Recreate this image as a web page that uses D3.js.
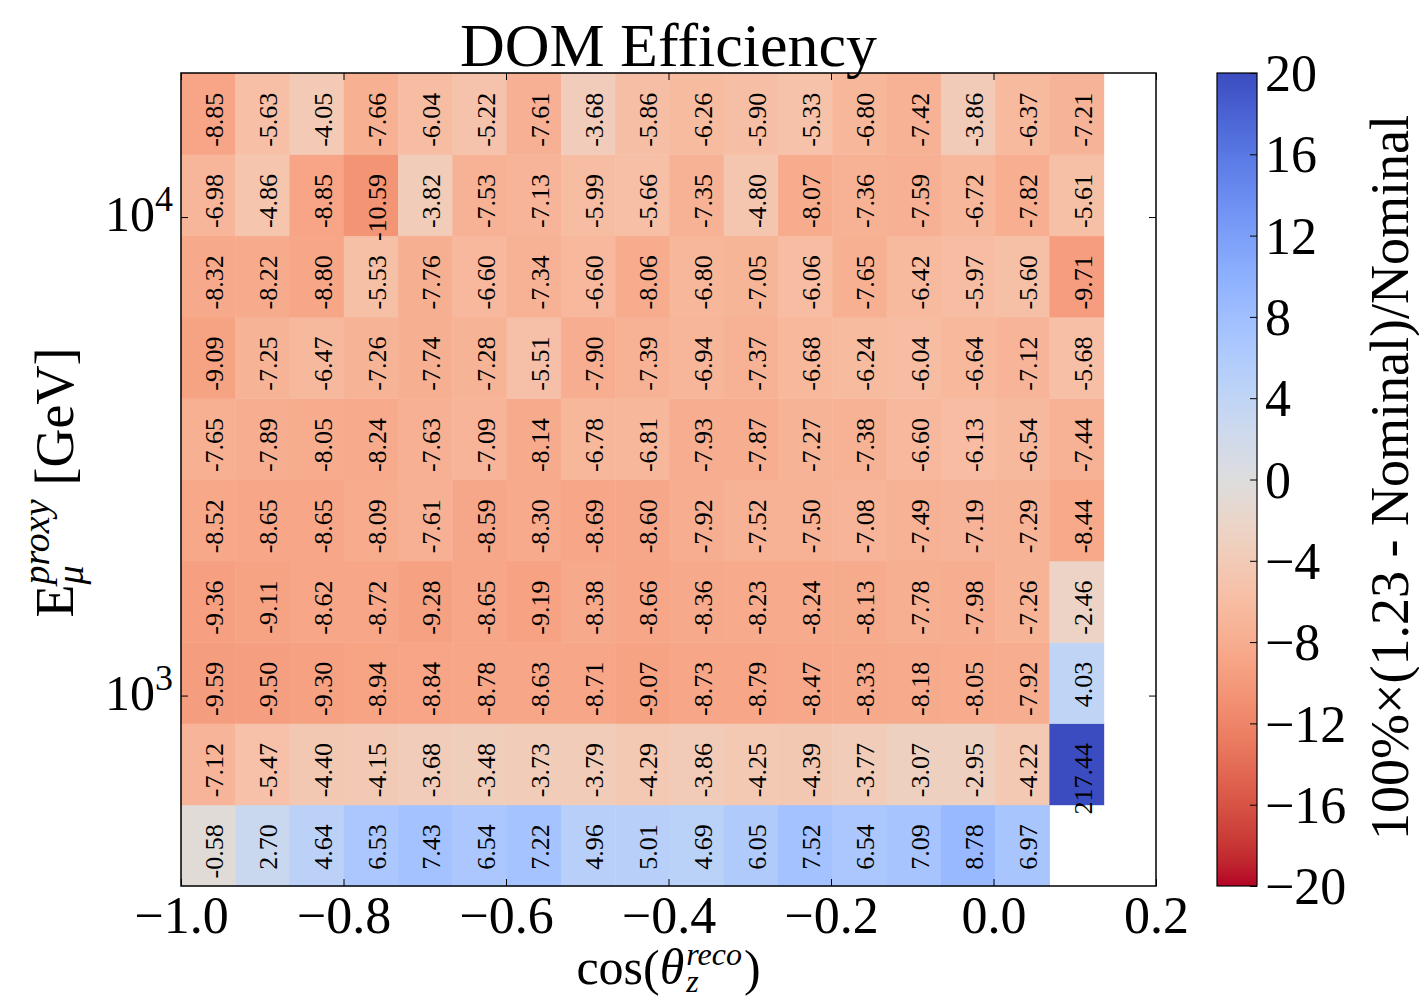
<!DOCTYPE html>
<html><head><meta charset="utf-8">
<script src="https://cdn.jsdelivr.net/npm/d3@7"></script>
<style>
body{margin:0;background:#fff}
svg{display:block}
text{font-family:"Liberation Serif","DejaVu Serif",serif;fill:#000}
</style>
</head><body>
<svg id="chart" width="1419" height="998"></svg>
<script>
// ---- data ----
const cosEdges = [-1.0, -0.9332, -0.8664, -0.7996, -0.7328, -0.666, -0.5992, -0.5324, -0.4656,
                  -0.3988, -0.332, -0.2652, -0.1984, -0.1316, -0.0648, 0.002, 0.0688, 0.1356];
const energyEdges = [400, 591.5, 875, 1293, 1913, 2828, 4182, 6184, 9146, 13525, 20000];

// rows from lowest energy bin (bottom) to highest (top)
const rowE0 = [-0.58, 2.70, 4.64, 6.53, 7.43, 6.54, 7.22, 4.96, 5.01, 4.69, 6.05, 7.52, 6.54, 7.09, 8.78, 6.97, null];
const rowE1 = [-7.12, -5.47, -4.40, -4.15, -3.68, -3.48, -3.73, -3.79, -4.29, -3.86, -4.25, -4.39, -3.77, -3.07, -2.95, -4.22, 217.44];
const rowE2 = [-9.59, -9.50, -9.30, -8.94, -8.84, -8.78, -8.63, -8.71, -9.07, -8.73, -8.79, -8.47, -8.33, -8.18, -8.05, -7.92, 4.03];
const rowE3 = [-9.36, -9.11, -8.62, -8.72, -9.28, -8.65, -9.19, -8.38, -8.66, -8.36, -8.23, -8.24, -8.13, -7.78, -7.98, -7.26, -2.46];
const rowE4 = [-8.52, -8.65, -8.65, -8.09, -7.61, -8.59, -8.30, -8.69, -8.60, -7.92, -7.52, -7.50, -7.08, -7.49, -7.19, -7.29, -8.44];
const rowE5 = [-7.65, -7.89, -8.05, -8.24, -7.63, -7.09, -8.14, -6.78, -6.81, -7.93, -7.87, -7.27, -7.38, -6.60, -6.13, -6.54, -7.44];
const rowE6 = [-9.09, -7.25, -6.47, -7.26, -7.74, -7.28, -5.51, -7.90, -7.39, -6.94, -7.37, -6.68, -6.24, -6.04, -6.64, -7.12, -5.68];
const rowE7 = [-8.32, -8.22, -8.80, -5.53, -7.76, -6.60, -7.34, -6.60, -8.06, -6.80, -7.05, -6.06, -7.65, -6.42, -5.97, -5.60, -9.71];
const rowE8 = [-6.98, -4.86, -8.85, -10.59, -3.82, -7.53, -7.13, -5.99, -5.66, -7.35, -4.80, -8.07, -7.36, -7.59, -6.72, -7.82, -5.61];
const rowE9 = [-8.85, -5.63, -4.05, -7.66, -6.04, -5.22, -7.61, -3.68, -5.86, -6.26, -5.90, -5.33, -6.80, -7.42, -3.86, -6.37, -7.21];
const rows = [rowE0, rowE1, rowE2, rowE3, rowE4, rowE5, rowE6, rowE7, rowE8, rowE9];

const xTicks = [-1.0, -0.8, -0.6, -0.4, -0.2, 0.0, 0.2];
const xTickLabels = ["\u22121.0", "\u22120.8", "\u22120.6", "\u22120.4", "\u22120.2", "0.0", "0.2"];
const yTicks = [1000, 10000];
const yTickExponents = ["3", "4"];
const cbTicks = [20, 16, 12, 8, 4, 0, -4, -8, -12, -16, -20];
const cbTickLabels = ["20", "16", "12", "8", "4", "0", "\u22124", "\u22128", "\u221212", "\u221216", "\u221220"];
const cbDomain = [-20, 20];
const coolwarmColors = ["#3b4cc0","#445acc","#4d68d7","#5775e1","#6282ea","#6c8ef1","#779af7","#82a5fb",
  "#8db0fe","#98b9ff","#a3c2ff","#aec9fd","#b8d0f9","#c2d5f4","#ccd9ee","#d5dbe6","#dddddd",
  "#e5d8d1","#ecd3c5","#f1ccb9","#f5c4ad","#f7bba0","#f7b194","#f7a687","#f49a7b","#f18d6f",
  "#ec7f63","#e57058","#de604d","#d55042","#cb3e38","#c0282f","#b40426"];
const titleText = "DOM Efficiency";
const cbLabelText = "100%\u00d7(1.23 - Nominal)/Nominal";

// ---- layout ----
const plot = {left: 181, right: 1156, top: 73, bottom: 886};
const cb = {left: 1217, right: 1257, top: 73, bottom: 886};

const svg = d3.select("#chart");
const x = d3.scaleLinear().domain([-1.0, 0.2]).range([plot.left, plot.right]);
const y = d3.scaleLog().domain([400, 20000]).range([plot.bottom, plot.top]);
const cmap = d3.piecewise(d3.interpolateRgb, coolwarmColors);
const color = d3.scaleSequential(t => cmap(1 - t)).domain(cbDomain).clamp(true);

// cells
const cells = [];
rows.forEach((r, j) => r.forEach((v, i) => {
  if (v !== null) cells.push({i, j, v});
}));
const gCells = svg.append("g");
gCells.selectAll("rect").data(cells).join("rect")
  .attr("x", d => x(cosEdges[d.i]))
  .attr("y", d => y(energyEdges[d.j + 1]))
  .attr("width", d => x(cosEdges[d.i + 1]) - x(cosEdges[d.i]) + 0.5)
  .attr("height", d => y(energyEdges[d.j]) - y(energyEdges[d.j + 1]) + 0.5)
  .attr("fill", d => color(d.v));

gCells.selectAll("text").data(cells).join("text")
  .attr("transform", d => {
    const cx = (x(cosEdges[d.i]) + x(cosEdges[d.i + 1])) / 2;
    const cy = (y(energyEdges[d.j]) + y(energyEdges[d.j + 1])) / 2;
    return `translate(${cx + 15},${cy - 21}) rotate(-90)`;
  })
  .attr("text-anchor", "end")
  .attr("font-size", 26)
  .text(d => d.v.toFixed(2));

// axes ticks
function styleAxis(g) {
  g.select(".domain").remove();
  g.selectAll(".tick line").attr("stroke", "#000").attr("stroke-width", 1);
}
svg.append("g").attr("transform", `translate(0,${plot.bottom})`)
  .call(d3.axisBottom(x).tickValues(xTicks).tickSize(-7).tickPadding(10)
    .tickFormat((d, i) => xTickLabels[i]))
  .call(styleAxis)
  .call(g => g.selectAll(".tick text").attr("font-size", 52)
    .attr("font-family", "'Liberation Serif',serif").attr("fill", "#000"));
svg.append("g").attr("transform", `translate(0,${plot.top})`)
  .call(d3.axisTop(x).tickValues(xTicks).tickSize(-7).tickFormat(""))
  .call(styleAxis);
svg.append("g").attr("transform", `translate(${plot.left},0)`)
  .call(d3.axisLeft(y).tickValues(yTicks).tickSize(-7).tickFormat(""))
  .call(styleAxis);
svg.append("g").attr("transform", `translate(${plot.right},0)`)
  .call(d3.axisRight(y).tickValues(yTicks).tickSize(-7).tickFormat(""))
  .call(styleAxis);

// y tick labels with superscripts
yTicks.forEach((t, k) => {
  const tx = svg.append("text")
    .attr("x", plot.left - 8).attr("y", y(t) + 14)
    .attr("text-anchor", "end").attr("font-size", 50);
  tx.append("tspan").text("10");
  tx.append("tspan").attr("font-size", 36).attr("dy", -20).text(yTickExponents[k]);
});

// frame
svg.append("rect")
  .attr("x", plot.left).attr("y", plot.top)
  .attr("width", plot.right - plot.left).attr("height", plot.bottom - plot.top)
  .attr("fill", "none").attr("stroke", "#000").attr("stroke-width", 1.5);

// title
svg.append("text").attr("x", (plot.left + plot.right) / 2).attr("y", 66)
  .attr("text-anchor", "middle").attr("font-size", 62).text(titleText);

// math label helper
function mathLabel(parent, pieces) {
  const g = parent.append("g");
  let pos = 0, groupStart = 0;
  pieces.forEach(p => {
    const t = g.append("text").text(p.t)
      .attr("font-size", p.size)
      .attr("font-style", p.italic ? "italic" : "normal")
      .attr("y", p.shift || 0);
    const w = t.node().getComputedTextLength();
    let xx;
    if (p.stack) { xx = groupStart; } else { xx = pos; groupStart = xx; }
    t.attr("x", xx);
    pos = Math.max(pos, xx + w) + (p.gap || 0);
  });
  g.attr("transform", `translate(${-pos / 2},0)`);
  return g;
}

// x label
const gx = svg.append("g").attr("transform", `translate(${(plot.left + plot.right) / 2},984)`);
mathLabel(gx, [
  {t: "cos", size: 50},
  {t: "(", size: 50, shift: 1},
  {t: "\u03b8", size: 50, italic: true, gap: 2},
  {t: "reco", size: 32, italic: true, shift: -19},
  {t: "z", size: 32, italic: true, shift: 8, stack: true, gap: 2},
  {t: ")", size: 50, shift: 1}
]);

// y label
const gy = svg.append("g").attr("transform", `translate(73,${(plot.top + plot.bottom) / 2 + 3}) rotate(-90)`);
mathLabel(gy, [
  {t: "E", size: 54},
  {t: "proxy", size: 38, italic: true, shift: -24},
  {t: "\u03bc", size: 38, italic: true, shift: 10, stack: true, gap: 14},
  {t: "[GeV]", size: 54}
]);

// colorbar
const defs = svg.append("defs");
const grad = defs.append("linearGradient").attr("id", "cbgrad")
  .attr("x1", 0).attr("y1", 0).attr("x2", 0).attr("y2", 1);
const cbScale = d3.scaleLinear().domain(cbDomain).range([cb.bottom, cb.top]);
d3.range(0, 65).forEach(k => {
  const v = cbDomain[1] - (cbDomain[1] - cbDomain[0]) * k / 64;
  grad.append("stop").attr("offset", (k / 64)).attr("stop-color", color(v));
});
svg.append("rect").attr("x", cb.left).attr("y", cb.top)
  .attr("width", cb.right - cb.left).attr("height", cb.bottom - cb.top)
  .attr("fill", "url(#cbgrad)").attr("stroke", "#000").attr("stroke-width", 1.2);
svg.append("g").attr("transform", `translate(${cb.right},0)`)
  .call(d3.axisRight(cbScale).tickValues(cbTicks).tickSize(-7).tickPadding(8)
    .tickFormat((d, i) => cbTickLabels[i]))
  .call(styleAxis)
  .call(g => g.selectAll(".tick text").attr("font-size", 52)
    .attr("font-family", "'Liberation Serif',serif").attr("fill", "#000").attr("dy", "0.34em"));

// colorbar label
svg.append("text")
  .attr("transform", `translate(1408,${(cb.top + cb.bottom) / 2 - 2}) rotate(-90)`)
  .attr("text-anchor", "middle").attr("font-size", 54).text(cbLabelText);
</script>
</body></html>
